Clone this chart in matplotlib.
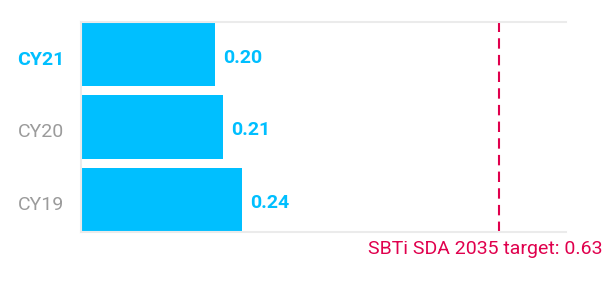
import matplotlib.pyplot as plt
import matplotlib.transforms as mtransforms

# data
years = ['CY19', 'CY20', 'CY21']
intensity = [0.243, 0.214, 0.202]
target = 0.63
target_label = 'SBTi SDA 2035 target: 0.63'

blue = '#00BFFF'
red = '#E0004D'
grey = '#9B9B9B'
light = '#EBEBEB'

plt.rcParams['font.family'] = ['Roboto', 'DejaVu Sans']

fig = plt.figure(figsize=(6.1, 2.93), dpi=100)
ax = fig.add_axes([81/610, 1-232/293, (566-81)/610, (232-22)/293])

h = 0.88
ypos = list(range(len(years)))
ax.barh(ypos, intensity, height=h, color=blue)

for y, v in zip(ypos, intensity):
    ax.annotate(f'{v:.2f}', (v, y), xytext=(6, -2.5), textcoords='offset points',
                va='center', ha='left', color=blue, fontsize=14, fontweight='bold')

ax.axvline(target, color=red, lw=1.5, dashes=(5, 3))

ax.set_xlim(0, 0.731)
ax.set_ylim(-h/2, len(years)-1+h/2)
ax.set_yticks(ypos)
ax.set_yticklabels(years, fontsize=14, color=grey)
ax.get_yticklabels()[-1].set_color(blue)
ax.get_yticklabels()[-1].set_fontweight('bold')
ax.tick_params(axis='y', length=0, pad=12)
ax.set_xticks([])

# nudge the year labels down a little like the reference
shift = mtransforms.ScaledTranslation(0, -2.5/72, fig.dpi_scale_trans)
for lab in ax.get_yticklabels():
    lab.set_transform(lab.get_transform() + shift)

for side in ['top', 'bottom', 'left']:
    ax.spines[side].set_color(light)
    ax.spines[side].set_linewidth(1.5)
ax.spines['right'].set_visible(False)

fig.text(603/610, 1-249/293, target_label, ha='right', va='center',
         color=red, fontsize=14)

fig.savefig('out.png', dpi=100)
